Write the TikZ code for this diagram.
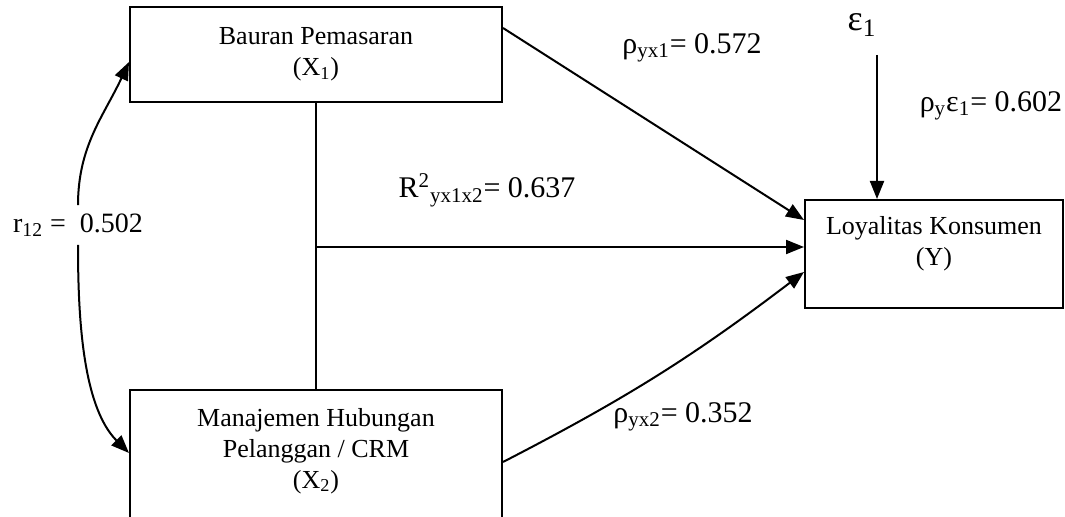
\documentclass[tikz,border=0pt]{standalone}
\usepackage{fontspec}
\setmainfont{Liberation Serif}
\usetikzlibrary{arrows.meta,positioning,calc}

\begin{document}
\begin{tikzpicture}[x=0.5pt,y=0.5pt,
	var/.style={shape=rectangle,draw=black,line width=1pt,align=center,font=\fontsize{13}{15.5}\selectfont},
	coef/.style={font=\fontsize{15}{18}\selectfont,inner sep=1pt},
	tip/.style={line width=1pt,-{Triangle[length=9pt,width=7pt]}}]
	\useasboundingbox (0,0) rectangle (1065,-517);
	\node[var,minimum width=186pt,minimum height=47.5pt](X1) at (316,-54.5) {Bauran Pemasaran\\(X\textsubscript{1})};
	\node[var,minimum width=186pt,minimum height=70pt,text depth=12pt](X2) at (316,-460) {Manajemen Hubungan\\Pelanggan / CRM\\(X\textsubscript{2})};
	\node[var,minimum width=129pt,minimum height=54pt,text depth=13pt](Y) at (934,-254) {Loyalitas Konsumen\\(Y)};
	\node[coef](P1) at (692,-48) {ρ\textsubscript{yx1}= 0.572};
	\node[coef](R2) at (487,-190) {R\textsuperscript{2}\textsubscript{yx1x2}= 0.637};
	\node[coef](P2) at (683,-417) {ρ\textsubscript{yx2}= 0.352};
	\node[coef](PE) at (991,-106) {ρ\textsubscript{y}ε\textsubscript{1}= 0.602};
	\node[font=\fontsize{18}{21}\selectfont](E1) at (862,-25) {ε\textsubscript{1}};
	\node[font=\fontsize{14}{16}\selectfont,inner sep=4pt](R12) at (78,-225) {r\textsubscript{12} =~~0.502};
	\coordinate (J) at (316,-247);
	\coordinate (ET) at (877,-55);
	\draw[line width=1pt](X1) -- (X2);
	\path[tip]([yshift=13.25pt]X1.east) edge node {} ([yshift=17pt]Y.west);
	\path[tip](J) edge node {} (J -| Y.west);
	\path[tip]([yshift=-1pt]X2.east) edge[bend right=5] node {} ([yshift=-9pt]Y.west);
	\path[tip](ET) edge node {} (ET |- Y.north);
	\path[tip](R12.north) edge[out=90,in=245] node {} ([yshift=-3.75pt]X1.west);
	\path[tip](R12.south) edge[out=-90,in=135,looseness=0.8] node {} ([yshift=3.5pt]X2.west);
\end{tikzpicture}
\end{document}
